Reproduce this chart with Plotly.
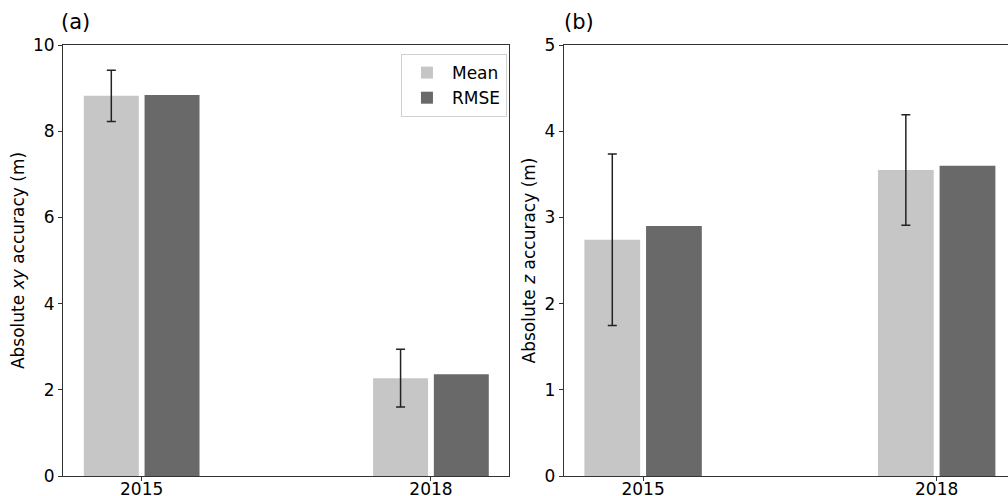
import plotly.graph_objects as go

years = ["2015", "2018"]
xpos = [0, 1]
xy_mean = [8.82, 2.27]
xy_mean_err = [0.595, 0.67]
xy_rmse = [8.84, 2.36]
z_mean = [2.74, 3.55]
z_mean_err = [0.995, 0.64]
z_rmse = [2.90, 3.60]

MEAN_C = "#c6c6c6"
RMSE_C = "#696969"
FONT = "DejaVu Sans"

fig = go.Figure()

def add_panel(mean, err, rmse, xa, ya, show):
    fig.add_trace(go.Bar(x=xpos, y=mean, name="Mean", marker=dict(color=MEAN_C, line=dict(width=0)),
                         width=0.19, offset=-0.2, xaxis=xa, yaxis=ya, showlegend=show,
                         error_y=dict(type="data", array=err, visible=True, color="#222222",
                                      thickness=1.5, width=4.5)))
    fig.add_trace(go.Bar(x=xpos, y=rmse, name="RMSE", marker=dict(color=RMSE_C, line=dict(width=0)),
                         width=0.19, offset=0.01, xaxis=xa, yaxis=ya, showlegend=show))

add_panel(xy_mean, xy_mean_err, xy_rmse, "x", "y", True)
add_panel(z_mean, z_mean_err, z_rmse, "x2", "y2", False)

axcommon = dict(showline=True, linecolor="#333333", linewidth=1, ticks="outside", ticklen=4,
                tickcolor="#333333", showgrid=False, zeroline=False, automargin=False,
                tickfont=dict(family=FONT, size=17, color="black"))

fig.update_layout(
    width=1008, height=496,
    margin=dict(l=63, r=0, t=45, b=20),
    plot_bgcolor="white", paper_bgcolor="white",
    barmode="overlay",
    font=dict(family=FONT, size=17, color="black"),
    xaxis=dict(domain=[0, 0.472], range=[-0.272, 1.27], tickvals=xpos, ticktext=years,
               mirror=True, ticklabelstandoff=-6, **axcommon),
    yaxis=dict(domain=[0, 1], range=[0, 10], tickvals=[0, 2, 4, 6, 8, 10], mirror=True,
               title=dict(text="Absolute <i>xy</i> accuracy (m)", standoff=4,
                          font=dict(family=FONT, size=17)), **axcommon),
    xaxis2=dict(domain=[0.530, 1.0], range=[-0.27, 1.243], tickvals=xpos, ticktext=years,
                mirror=True, anchor="y2", ticklabelstandoff=-6, **axcommon),
    yaxis2=dict(domain=[0, 1], range=[0, 5], tickvals=[0, 1, 2, 3, 4, 5], anchor="x2",
                title=dict(text="Absolute <i>z</i> accuracy (m)", standoff=4,
                           font=dict(family=FONT, size=17)), **axcommon),
    legend=dict(x=0.4698, y=0.979, xanchor="right", yanchor="top", bgcolor="white",
                bordercolor="#d0d0d0", borderwidth=1, font=dict(family=FONT, size=17),
                itemwidth=40, tracegroupgap=0),
    annotations=[
        dict(text="(a)", x=-0.004, y=1.053, xref="paper", yref="paper", xanchor="left",
             yanchor="middle", showarrow=False, font=dict(family=FONT, size=21, color="black")),
        dict(text="(b)", x=0.528, y=1.053, xref="paper", yref="paper", xanchor="left",
             yanchor="middle", showarrow=False, font=dict(family=FONT, size=21, color="black")),
    ],
)

fig.write_html("out.html", config={"displayModeBar": False},
               post_script="document.body.style.margin='0';document.body.style.overflow='hidden';")
